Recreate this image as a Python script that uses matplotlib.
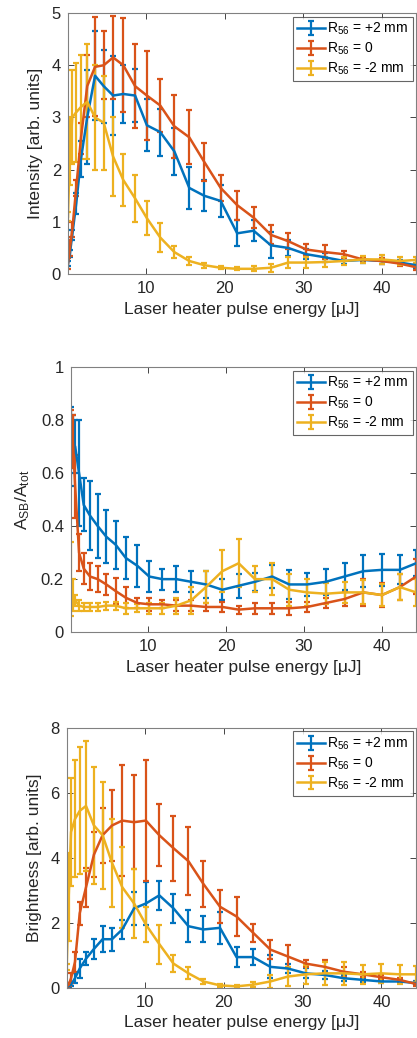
import matplotlib
matplotlib.use("Agg")
import matplotlib.pyplot as plt

plt.rcParams['font.family'] = ['Liberation Sans', 'DejaVu Sans']
plt.rcParams['mathtext.fontset'] = 'custom'
plt.rcParams['mathtext.rm'] = 'Liberation Sans'
plt.rcParams['mathtext.it'] = 'Liberation Sans'

# laser heater pulse energy [uJ]
energy = [0.05, 0.3, 0.6, 1.1, 1.7, 2.5, 3.5, 4.6, 5.8, 7.1, 8.6, 10.1, 11.8, 13.6,
          15.5, 17.4, 19.5, 21.6, 23.7, 25.9, 28.1, 30.4, 32.8, 35.2, 37.6, 40.0,
          42.3, 44.4]

labels = ['R$_{56}$ = +2 mm', 'R$_{56}$ = 0', 'R$_{56}$ = -2 mm']

# Intensity [arb. units]
int_p2 = [0.2, 0.4, 0.75, 1.35, 2.2, 3.0, 3.8, 3.6, 3.42, 3.45, 3.42, 2.85, 2.72, 2.35,
          1.65, 1.5, 1.4, 0.78, 0.83, 0.55, 0.5, 0.38, 0.32, 0.25, 0.27, 0.25, 0.22, 0.17]
int_p2_err = [0.05, 0.07, 0.1, 0.2, 0.35, 0.9, 0.85, 0.7, 0.75, 0.55, 0.5, 0.5, 0.45, 0.45,
              0.4, 0.3, 0.3, 0.25, 0.2, 0.25, 0.15, 0.1, 0.08, 0.05, 0.05, 0.05, 0.05, 0.05]
int_0 = [0.2, 0.5, 0.85, 1.65, 2.6, 3.6, 3.97, 4.0, 4.15, 4.0, 3.6, 3.42, 3.23, 2.83,
         2.62, 2.15, 1.65, 1.32, 1.08, 0.75, 0.63, 0.47, 0.42, 0.38, 0.28, 0.25, 0.2, 0.13]
int_0_err = [0.1, 0.15, 0.15, 0.15, 0.3, 0.6, 0.95, 0.65, 0.8, 0.9, 0.8, 0.85, 0.5, 0.6,
             0.52, 0.36, 0.25, 0.28, 0.2, 0.18, 0.15, 0.1, 0.14, 0.07, 0.05, 0.05, 0.05, 0.05]
int_m2 = [1.1, 2.35, 3.0, 3.1, 3.2, 3.3, 3.0, 2.9, 2.25, 1.8, 1.45, 1.07, 0.7, 0.42,
          0.25, 0.17, 0.12, 0.1, 0.1, 0.12, 0.22, 0.22, 0.23, 0.25, 0.28, 0.28, 0.25, 0.27]
int_m2_err = [0.08, 0.65, 0.9, 0.95, 1.0, 1.1, 1.0, 0.9, 0.75, 0.5, 0.45, 0.33, 0.27, 0.12,
              0.08, 0.05, 0.03, 0.03, 0.05, 0.08, 0.1, 0.1, 0.1, 0.08, 0.07, 0.08, 0.08, 0.06]

# A_SB / A_tot
ratio_p2 = [0.7, 0.72, 0.7, 0.6, 0.48, 0.44, 0.4, 0.36, 0.33, 0.28, 0.25, 0.21, 0.2, 0.2,
            0.19, 0.18, 0.16, 0.175, 0.19, 0.21, 0.18, 0.18, 0.19, 0.21, 0.23, 0.235, 0.235, 0.26]
ratio_p2_err = [0.15, 0.1, 0.1, 0.2, 0.1, 0.13, 0.12, 0.1, 0.09, 0.08, 0.08, 0.06, 0.04, 0.05,
                0.04, 0.05, 0.04, 0.045, 0.035, 0.045, 0.055, 0.045, 0.05, 0.05, 0.06, 0.06, 0.055, 0.05]
ratio_0 = [0.8, 0.72, 0.55, 0.3, 0.24, 0.21, 0.2, 0.18, 0.155, 0.13, 0.11, 0.105, 0.105, 0.1,
           0.1, 0.095, 0.095, 0.085, 0.09, 0.09, 0.09, 0.095, 0.11, 0.125, 0.15, 0.14, 0.17, 0.21]
ratio_0_err = [0.04, 0.1, 0.12, 0.07, 0.06, 0.05, 0.05, 0.04, 0.05, 0.04, 0.02, 0.025, 0.015, 0.02,
               0.02, 0.015, 0.02, 0.015, 0.02, 0.02, 0.025, 0.02, 0.02, 0.025, 0.05, 0.045, 0.05, 0.065]
ratio_m2 = [0.2, 0.14, 0.12, 0.1, 0.095, 0.095, 0.095, 0.1, 0.1, 0.09, 0.09, 0.09, 0.09, 0.1,
            0.12, 0.17, 0.23, 0.26, 0.2, 0.2, 0.16, 0.15, 0.145, 0.15, 0.15, 0.14, 0.17, 0.15]
ratio_m2_err = [0.14, 0.06, 0.02, 0.02, 0.015, 0.015, 0.015, 0.015, 0.015, 0.02, 0.015, 0.02, 0.02, 0.03,
                0.05, 0.06, 0.08, 0.09, 0.05, 0.06, 0.06, 0.05, 0.04, 0.04, 0.045, 0.04, 0.05, 0.05]

# Brightness [arb. units]
bright_p2 = [0.05, 0.05, 0.1, 0.3, 0.6, 0.9, 1.2, 1.5, 1.5, 1.8, 2.45, 2.6, 2.85, 2.45,
             1.9, 1.8, 1.85, 0.95, 0.95, 0.65, 0.6, 0.45, 0.4, 0.3, 0.25, 0.2, 0.2, 0.15]
bright_p2_err = [0.03, 0.03, 0.05, 0.15, 0.3, 0.2, 0.3, 0.4, 0.35, 0.3, 0.5, 0.65, 0.45, 0.45,
                 0.5, 0.4, 0.5, 0.3, 0.25, 0.35, 0.15, 0.15, 0.12, 0.09, 0.06, 0.05, 0.05, 0.05]
bright_0 = [0.05, 0.1, 0.3, 0.8, 2.3, 3.1, 4.1, 4.7, 5.0, 5.15, 5.1, 5.15, 4.7, 4.3,
            3.9, 3.2, 2.5, 2.2, 1.7, 1.18, 0.97, 0.75, 0.65, 0.5, 0.42, 0.33, 0.25, 0.12]
bright_0_err = [0.05, 0.05, 0.15, 0.3, 0.35, 0.6, 0.7, 0.85, 1.1, 1.7, 1.45, 1.85, 0.95, 1.0,
                1.05, 0.7, 0.5, 0.6, 0.28, 0.3, 0.35, 0.12, 0.2, 0.15, 0.08, 0.06, 0.06, 0.05]
bright_m2 = [0.65, 2.8, 4.8, 5.2, 5.45, 5.6, 5.0, 4.7, 3.85, 3.1, 2.6, 1.95, 1.35, 0.75,
             0.45, 0.2, 0.08, 0.05, 0.1, 0.2, 0.35, 0.42, 0.45, 0.45, 0.42, 0.45, 0.42, 0.42]
bright_m2_err = [0.1, 1.35, 1.65, 1.8, 1.95, 2.0, 1.8, 1.65, 1.35, 1.25, 1.05, 0.55, 0.6, 0.25,
                 0.18, 0.08, 0.04, 0.03, 0.08, 0.2, 0.3, 0.3, 0.35, 0.35, 0.3, 0.3, 0.3, 0.25]

colors = ['#0072BD', '#D95319', '#EDB120']
ink = '#262626'

fig = plt.figure(figsize=(4.17, 10.38), dpi=100)

panels = [
    ([0.163, 0.736, 0.835, 0.2514], (int_p2, int_0, int_m2),
     (int_p2_err, int_0_err, int_m2_err), 'Intensity [arb. units]', (0, 5), [0, 1, 2, 3, 4, 5]),
    ([0.170, 0.391, 0.828, 0.2553], (ratio_p2, ratio_0, ratio_m2),
     (ratio_p2_err, ratio_0_err, ratio_m2_err), r'A$_{\mathrm{SB}}$/A$_{\mathrm{tot}}$', (0, 1),
     [0, 0.2, 0.4, 0.6, 0.8, 1]),
    ([0.160, 0.0482, 0.838, 0.2505], (bright_p2, bright_0, bright_m2),
     (bright_p2_err, bright_0_err, bright_m2_err), 'Brightness [arb. units]', (0, 8), [0, 2, 4, 6, 8]),
]

for rect, series, errs, ylabel, ylim, yticks in panels:
    ax = fig.add_axes(rect)
    for y, e, c, lab in zip(series, errs, colors, labels):
        ax.errorbar(energy, y, yerr=e, color=c, lw=1.8, elinewidth=1.6,
                    capsize=2.5, capthick=1.6, label=lab, clip_on=True)
    ax.set_xlim(energy[0], energy[-1])
    ax.set_ylim(*ylim)
    ax.set_xticks([10, 20, 30, 40])
    ax.set_yticks(yticks)
    ax.set_yticklabels(['%g' % t for t in yticks])
    ax.tick_params(direction='in', top=True, right=True, length=4, width=0.6,
                   labelsize=12, colors=ink, pad=5)
    for sp in ax.spines.values():
        sp.set_color('#808080')
        sp.set_linewidth(0.8)
    ax.set_xlabel('Laser heater pulse energy [\u03bcJ]', fontsize=12.5, color=ink, labelpad=4)
    ax.set_ylabel(ylabel, fontsize=12.5, color=ink, labelpad=6)
    leg = ax.legend(loc='upper right', fontsize=10, frameon=True, fancybox=False,
                    borderaxespad=0.25, handlelength=2.0, handletextpad=0.2,
                    labelspacing=0.25, borderpad=0.3)
    leg.get_frame().set_edgecolor('#404040')
    leg.get_frame().set_linewidth(0.8)

fig.savefig('out.png', dpi=100)
